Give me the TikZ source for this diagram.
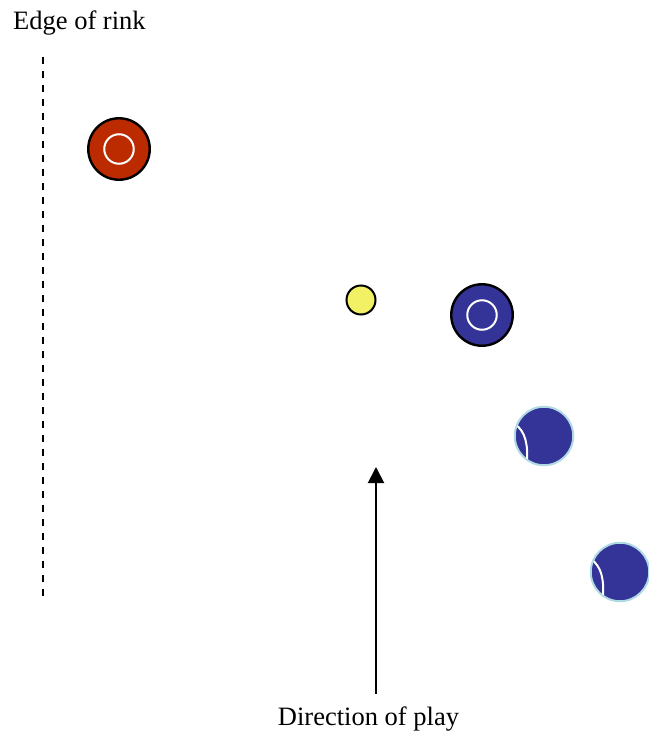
\documentclass[tikz,border=0pt]{standalone}
\usepackage{fontspec}
\setmainfont{Liberation Serif}
\usetikzlibrary{arrows.meta}
\definecolor{jackred}{RGB}{188,42,0}
\definecolor{ballblue}{RGB}{52,52,152}
\definecolor{jackyel}{RGB}{242,240,100}
\definecolor{rimblue}{RGB}{175,218,228}
\tikzset{
  lbl/.style={font=\fontsize{26.5}{30}\selectfont, inner sep=0pt},
  ringball/.style={circle, draw=black, line width=2.4pt, minimum size=61.5pt, inner sep=0pt},
  innerring/.style={circle, draw=white, line width=2pt, minimum size=29.5pt, inner sep=0pt},
  softball/.style={circle, fill=ballblue, draw=rimblue, line width=2pt, minimum size=58.5pt, inner sep=0pt},
  seam/.style={draw=white, line width=2pt},
}
\begin{document}
\begin{tikzpicture}[x=1pt,y=-1pt]
\useasboundingbox (0,0) rectangle (648,731);
% edge of rink
\node[lbl, anchor=base west] (edge) at (13,29) {Edge of rink};
\coordinate (rtop) at (43,57);
\coordinate (rbot) at (43,598);
\draw[line width=1.6pt, dash pattern=on 7pt off 7pt] (rtop) -- (rbot);
% red ball
\node[ringball, fill=jackred] (red) at (119,149) {};
\node[innerring] (redc) at (red.center) {};
% jack
\node[circle, draw=black, line width=2pt, fill=jackyel, minimum size=29pt, inner sep=0pt] (jack) at (361,300) {};
% blue ring ball
\node[ringball, fill=ballblue] (blue) at (482,315) {};
\node[innerring] (bluec) at (blue.center) {};
% blue balls with seam
\node[softball] (b1) at (544,436) {};
\begin{scope}
\clip (b1.center) circle (28.5pt);
\draw[seam] ([shift={(-29,-12)}]b1.center) .. controls ([shift={(-18,-4)}]b1.center) and ([shift={(-16,9)}]b1.center) .. ([shift={(-17,28)}]b1.center);
\end{scope}
\node[softball] (b2) at (620,572) {};
\begin{scope}
\clip (b2.center) circle (28.5pt);
\draw[seam] ([shift={(-29,-13)}]b2.center) .. controls ([shift={(-18,-5)}]b2.center) and ([shift={(-16,8)}]b2.center) .. ([shift={(-17,26)}]b2.center);
\end{scope}
% direction of play
\node[lbl, anchor=base] (dir) at (368.5,725) {Direction of play};
\coordinate (abot) at (376,694);
\coordinate (atop) at (376,467);
\draw[line width=2pt, -{Triangle[length=16pt,width=16pt]}] (abot) -- (atop);
\end{tikzpicture}
\end{document}
